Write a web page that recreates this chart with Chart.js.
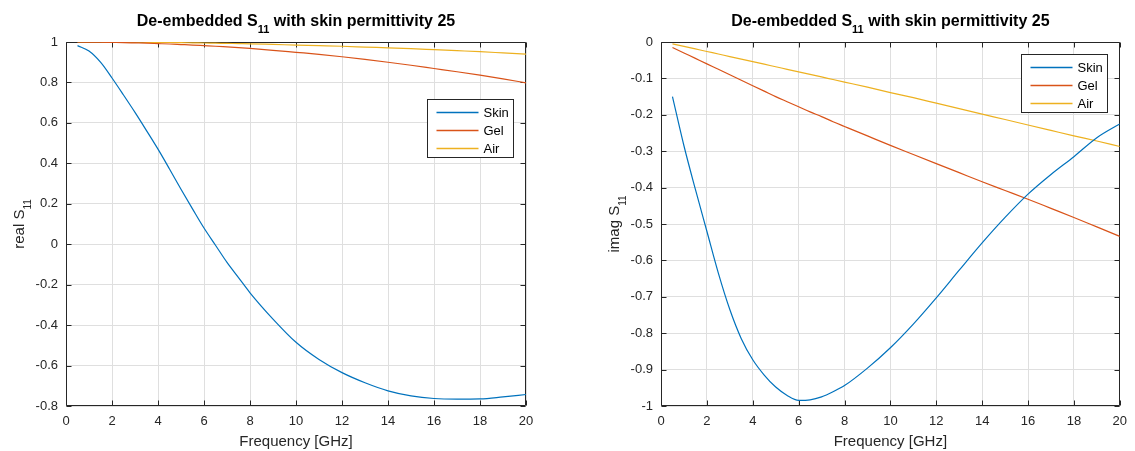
<!DOCTYPE html>
<html><head><meta charset="utf-8">
<script src="https://cdn.jsdelivr.net/npm/chart.js@4.4.1/dist/chart.umd.min.js"></script>
<style>
html,body{margin:0;padding:0;background:#fff;overflow:hidden}
#wrap{position:relative;width:1135px;height:451px;background:#fff}
canvas{position:absolute;top:0}
</style></head><body>
<div id="wrap">
<canvas id="c1" width="575" height="451" style="left:0px"></canvas>
<canvas id="c2" width="560" height="451" style="left:575px"></canvas>
</div>
<script>
// ---------- data ----------
const freq = [0.5,1,1.5,2,2.5,3,3.5,4,4.5,5,5.5,6,6.5,7,7.5,8,9,10,11,12,13,14,15,16,17,18,19,20];

const skinReal = [0.982,0.955,0.9,0.822,0.738,0.652,0.562,0.47,0.372,0.272,0.175,0.08,-0.005,-0.09,-0.165,-0.24,-0.37,-0.485,-0.57,-0.635,-0.685,-0.725,-0.75,-0.763,-0.766,-0.765,-0.755,-0.743];
const gelReal  = [1.0,0.9995,0.999,0.998,0.997,0.9955,0.994,0.992,0.99,0.9875,0.985,0.982,0.979,0.9755,0.972,0.968,0.959,0.949,0.939,0.927,0.914,0.9,0.885,0.869,0.853,0.836,0.818,0.798];
const airReal  = [1.0,1.0,1.0,0.9995,0.9992,0.999,0.9985,0.998,0.9975,0.997,0.996,0.995,0.994,0.993,0.992,0.991,0.988,0.985,0.982,0.979,0.975,0.971,0.967,0.962,0.957,0.952,0.946,0.94];

const skinImag = [-0.15,-0.285,-0.405,-0.52,-0.635,-0.735,-0.815,-0.873,-0.915,-0.948,-0.971,-0.9845,-0.983,-0.975,-0.961,-0.944,-0.896,-0.84,-0.775,-0.703,-0.627,-0.552,-0.482,-0.418,-0.364,-0.315,-0.263,-0.225];
const gelImag  = [-0.015,-0.03,-0.045,-0.06,-0.075,-0.09,-0.105,-0.12,-0.135,-0.15,-0.164,-0.178,-0.192,-0.205,-0.219,-0.232,-0.258,-0.284,-0.309,-0.334,-0.359,-0.384,-0.408,-0.432,-0.457,-0.482,-0.508,-0.534];
const airImag  = [-0.005,-0.012,-0.019,-0.026,-0.033,-0.04,-0.047,-0.054,-0.061,-0.068,-0.075,-0.082,-0.089,-0.096,-0.103,-0.11,-0.124,-0.139,-0.153,-0.168,-0.183,-0.198,-0.213,-0.228,-0.243,-0.258,-0.272,-0.287];

const seriesNames = ['Skin','Gel','Air'];
const xTicks = [0,2,4,6,8,10,12,14,16,18,20];
const yTicksReal = [-0.8,-0.6,-0.4,-0.2,0,0.2,0.4,0.6,0.8,1];
const yTicksImag = [-1,-0.9,-0.8,-0.7,-0.6,-0.5,-0.4,-0.3,-0.2,-0.1,0];
const titleMain = 'De-embedded S';
const titleSub = '11';
const titleRest = ' with skin permittivity 25';
const xLabel = 'Frequency [GHz]';

// ---------- styling ----------
const colors = ['#0072BD','#D95319','#EDB120'];
const FONT = '"Liberation Sans", Arial, Helvetica, sans-serif';
const AX = '#262626';
Chart.defaults.font.family = FONT;
Chart.defaults.color = AX;

function pts(ys){ return freq.map((f,i)=>({x:f,y:ys[i]})); }

function drawSubText(ctx, x, y, main, sub, rest, size, bold, align){
  const w = bold ? 'bold ' : '';
  const subSize = Math.round(size*0.68);
  ctx.font = w + size + 'px ' + FONT;
  const w1 = ctx.measureText(main).width;
  const w3 = rest ? ctx.measureText(rest).width : 0;
  ctx.font = w + subSize + 'px ' + FONT;
  const w2 = ctx.measureText(sub).width;
  const total = w1 + w2 + w3;
  let sx = align === 'center' ? x - total/2 : x;
  ctx.textAlign = 'left';
  ctx.textBaseline = 'alphabetic';
  ctx.font = w + size + 'px ' + FONT;
  ctx.fillText(main, sx, y);
  ctx.font = w + subSize + 'px ' + FONT;
  ctx.fillText(sub, sx + w1, y + size*0.45);
  ctx.font = w + size + 'px ' + FONT;
  if (rest) ctx.fillText(rest, sx + w1 + w2, y);
}

const framePlugin = {
  id: 'frame',
  beforeDatasetsDraw(chart, args, opts){
    const {ctx, chartArea:a, scales} = chart;
    ctx.save();
    ctx.strokeStyle = AX;
    ctx.lineWidth = 1;
    const L = Math.round(a.left)+0.5, R = Math.round(a.right)-0.5, T = Math.round(a.top)+0.5, B = Math.round(a.bottom)-0.5;
    ctx.beginPath();
    ctx.rect(L, T, R-L, B-T);
    ctx.stroke();
    const tl = 5;
    ctx.beginPath();
    scales.x.ticks.forEach(t=>{
      const px = Math.round(scales.x.getPixelForValue(t.value))+0.5;
      ctx.moveTo(px, B); ctx.lineTo(px, B-tl);
      ctx.moveTo(px, T); ctx.lineTo(px, T+tl);
    });
    scales.y.ticks.forEach(t=>{
      const py = Math.round(scales.y.getPixelForValue(t.value))+0.5;
      ctx.moveTo(L, py); ctx.lineTo(L+tl, py);
      ctx.moveTo(R, py); ctx.lineTo(R-tl, py);
    });
    ctx.stroke();
    ctx.restore();
  },
  afterDraw(chart, args, opts){
    const {ctx, chartArea:a} = chart;
    ctx.save();
    ctx.fillStyle = '#000';
    // title
    drawSubText(ctx, (a.left+a.right)/2, 26, titleMain, titleSub, titleRest, 16, true, 'center');
    // y label
    ctx.fillStyle = AX;
    ctx.translate(opts.ylabelX, (a.top+a.bottom)/2);
    ctx.rotate(-Math.PI/2);
    drawSubText(ctx, 0, 0, opts.ylabel + ' S', '11', '', 15, false, 'center');
    ctx.restore();
    // legend
    ctx.save();
    const bw = 86, bh = 58;
    const x0 = Math.round(a.right - opts.legRight - bw) + 0.5;
    const y0 = Math.round(a.top + opts.legTop) + 0.5;
    ctx.fillStyle = '#fff';
    ctx.fillRect(x0, y0, bw, bh);
    ctx.strokeStyle = AX;
    ctx.lineWidth = 1;
    ctx.strokeRect(x0, y0, bw, bh);
    ctx.font = '13px ' + FONT;
    ctx.textBaseline = 'middle';
    ctx.textAlign = 'left';
    chart.data.datasets.forEach((ds,i)=>{
      const ry = Math.round(y0 + 12.5 + i*18) + 0.5;
      ctx.strokeStyle = ds.borderColor;
      ctx.lineWidth = 1.3;
      ctx.beginPath();
      ctx.moveTo(x0+9, ry); ctx.lineTo(x0+51, ry);
      ctx.stroke();
      ctx.fillStyle = '#000';
      ctx.fillText(ds.label, x0+56, ry+0.5);
    });
    ctx.restore();
  }
};

function fmt(v){ return String(+Number(v).toFixed(2)); }

function makeChart(id, series, yTicks, ylabel, yW, padR, legTop, ylabelX){
  return new Chart(document.getElementById(id), {
    type: 'line',
    data: {
      datasets: series.map((s,i)=>({
        label: seriesNames[i],
        data: pts(s),
        borderColor: colors[i],
        backgroundColor: colors[i],
        borderWidth: 1.2,
        pointRadius: 0,
        cubicInterpolationMode: 'monotone',
        fill: false
      }))
    },
    options: {
      responsive: false,
      animation: false,
      devicePixelRatio: 1,
      layout: { padding: { top: 42, right: padR, left: 0, bottom: 0 } },
      plugins: {
        legend: { display: false },
        tooltip: { enabled: false },
        title: { display: false },
        frame: { ylabel: ylabel, legTop: legTop, legRight: 13, ylabelX: ylabelX }
      },
      scales: {
        x: {
          type: 'linear', min: xTicks[0], max: xTicks[xTicks.length-1],
          afterBuildTicks(sc){ sc.ticks = xTicks.map(v=>({value:v})); },
          afterFit(sc){ sc.height = 45; },
          ticks: { callback: fmt, font: { size: 13 }, color: AX, padding: 8, maxRotation: 0, autoSkip: false },
          grid: { color: '#dfdfdf', drawTicks: false, lineWidth: 1 },
          border: { display: false },
          title: { display: true, text: xLabel, font: { size: 15 }, color: AX, padding: { top: 0, bottom: 0 } }
        },
        y: {
          type: 'linear', min: yTicks[0], max: yTicks[yTicks.length-1],
          afterBuildTicks(sc){ sc.ticks = yTicks.map(v=>({value:v})); },
          afterFit(sc){ sc.width = yW; },
          ticks: { callback: fmt, font: { size: 13 }, color: AX, padding: 8, autoSkip: false },
          grid: { color: '#dfdfdf', drawTicks: false, lineWidth: 1 },
          border: { display: false }
        }
      }
    },
    plugins: [framePlugin]
  });
}

makeChart('c1', [skinReal, gelReal, airReal], yTicksReal, 'real', 66, 49, 57, 24);
makeChart('c2', [skinImag, gelImag, airImag], yTicksImag, 'imag', 86, 14, 12, 44);
</script>
</body></html>
